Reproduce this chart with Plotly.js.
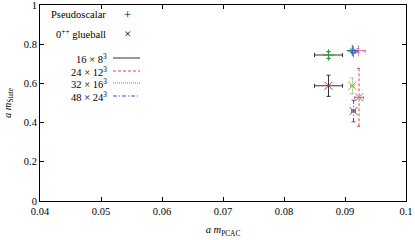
<!DOCTYPE html>
<html><head><meta charset="utf-8">
<script src="https://cdn.plot.ly/plotly-3.0.1.min.js"></script>
<style>html,body{margin:0;padding:0;background:#fff}#chart{width:415px;height:240px}</style>
</head><body><div id="chart"></div>
<script>
// Lattice volumes
const volumes = ["16 × 8<sup>3</sup>", "24 × 12<sup>3</sup>", "32 × 16<sup>3</sup>", "48 × 24<sup>3</sup>"];
// Pseudoscalar
const psX    = [0.0873, 0.0922, 0.0912, 0.0914];
const psXerr = [0.0023, 0.0011, 0.0003, 0.0003];
const psY    = [0.745, 0.767, 0.768, 0.762];
const psYerr = [0.017, 0.010, 0.010, 0.008];
// 0++ glueball
const gbX    = [0.0873, 0.0923, 0.0912, 0.0914];
const gbXerr = [0.0023, 0.0007, 0.0003, 0.0003];
const gbY    = [0.588, 0.529, 0.588, 0.459];
const gbYerr = [0.054, 0.148, 0.040, 0.055];
// Axis ticks
const xTicks = [0.04, 0.05, 0.06, 0.07, 0.08, 0.09, 0.1];
const xTickText = ["0.04", "0.05", "0.06", "0.07", "0.08", "0.09", "0.1"];
const yTicks = [0, 0.2, 0.4, 0.6, 0.8, 1];
const yTickText = ["0", "0.2", "0.4", "0.6", "0.8", "1"];

const colors = ["#333333", "#f04040", "#20c020", "#4848f0"];
const dashes = ["solid", "3px,2px", "1px,1px", "4px,2px,1px,2px"];

const xr = [0.04, 0.1], yr = [0, 1.0002];
const L = 40, R = 9, T = 5, B = 39, W = 415, H = 240;
const pw = W - L - R, ph = H - T - B;
const capX = 2 * (xr[1] - xr[0]) / pw;
const capY = 2 * (yr[1] - yr[0]) / ph;

const traces = [];
function errTrace(x, y, ex, ey, i) {
  const xs = [], ys = [];
  for (let k = 0; k < x.length; k++) {
    xs.push(x[k], x[k], null, x[k]-capX, x[k]+capX, null, x[k]-capX, x[k]+capX, null);
    ys.push(y[k]-ey[k], y[k]+ey[k], null, y[k]-ey[k], y[k]-ey[k], null, y[k]+ey[k], y[k]+ey[k], null);
    xs.push(x[k]-ex[k], x[k]+ex[k], null, x[k]-ex[k], x[k]-ex[k], null, x[k]+ex[k], x[k]+ex[k], null);
    ys.push(y[k], y[k], null, y[k]-capY, y[k]+capY, null, y[k]-capY, y[k]+capY, null);
  }
  return {x: xs, y: ys, mode: "lines", line: {color: colors[i], width: 1, dash: dashes[i]},
          showlegend: false, hoverinfo: "skip"};
}
for (let i = 0; i < volumes.length; i++) {
  traces.push(errTrace([psX[i]], [psY[i]], [psXerr[i]], [psYerr[i]], i));
  traces.push(errTrace([gbX[i]], [gbY[i]], [gbXerr[i]], [gbYerr[i]], i));
  traces.push({x: [psX[i]], y: [psY[i]], mode: "markers", showlegend: false,
    marker: {symbol: "cross-thin-open", size: 8, line: {color: colors[i], width: 1}}});
  traces.push({x: [gbX[i]], y: [gbY[i]], mode: "markers", showlegend: false,
    marker: {symbol: "x-thin-open", size: 8, line: {color: colors[i], width: 1}}});
}

const font = {family: "'Liberation Serif', 'DejaVu Serif', serif", size: 10.5, color: "#000"};
function px(x) { return (x - L) / pw; }
function py(y) { return (H - B - y) / ph; }

const annotations = [
  {text: "Pseudoscalar", x: px(108), y: py(15), xanchor: "right"},
  {text: "+", x: px(127), y: py(15), xanchor: "center", size: 13},
  {text: "0<sup>++</sup> glueball", x: px(108), y: py(33), xanchor: "right"},
  {text: "×", x: px(127), y: py(33), xanchor: "center", size: 13},
];
const legY = [58, 71, 83, 96];
const shapes = [];
for (let i = 0; i < volumes.length; i++) {
  annotations.push({text: volumes[i], x: px(109), y: py(legY[i]), xanchor: "right"});
  shapes.push({type: "line", xref: "paper", yref: "paper", x0: px(113), x1: px(140),
    y0: py(legY[i]), y1: py(legY[i]), line: {color: colors[i], width: 1, dash: dashes[i]}});
}
annotations.forEach(a => { a.xref = "paper"; a.yref = "paper"; a.showarrow = false; a.yanchor = "middle";
  a.font = {family: font.family, size: a.size || font.size, color: "#000"}; delete a.size; });

const layout = {
  width: W, height: H, margin: {l: L, r: R, t: T, b: B},
  paper_bgcolor: "#fff", plot_bgcolor: "#fff", font: font, showlegend: false,
  xaxis: {range: xr, tickmode: "array", tickvals: xTicks, ticktext: xTickText, ticks: "inside", ticklen: 4, tickcolor: "#000",
    showline: true, linecolor: "#000", linewidth: 1, mirror: "ticks", showgrid: false, zeroline: false,
    ticklabeloverflow: "allow", tickfont: font, title: {text: "<i>a m</i><sub>PCAC</sub>", font: font, standoff: 10}},
  yaxis: {range: yr, tickmode: "array", tickvals: yTicks, ticktext: yTickText, ticks: "inside", ticklen: 4, tickcolor: "#000",
    showline: true, linecolor: "#000", linewidth: 1, mirror: "ticks", showgrid: false, zeroline: false,
    ticklabeloverflow: "allow", tickfont: font, title: {text: "<i>a m</i><sub>State</sub>", font: font, standoff: 10}},
  annotations: annotations, shapes: shapes
};
Plotly.newPlot("chart", traces, layout, {displayModeBar: false, staticPlot: true});
</script></body></html>
